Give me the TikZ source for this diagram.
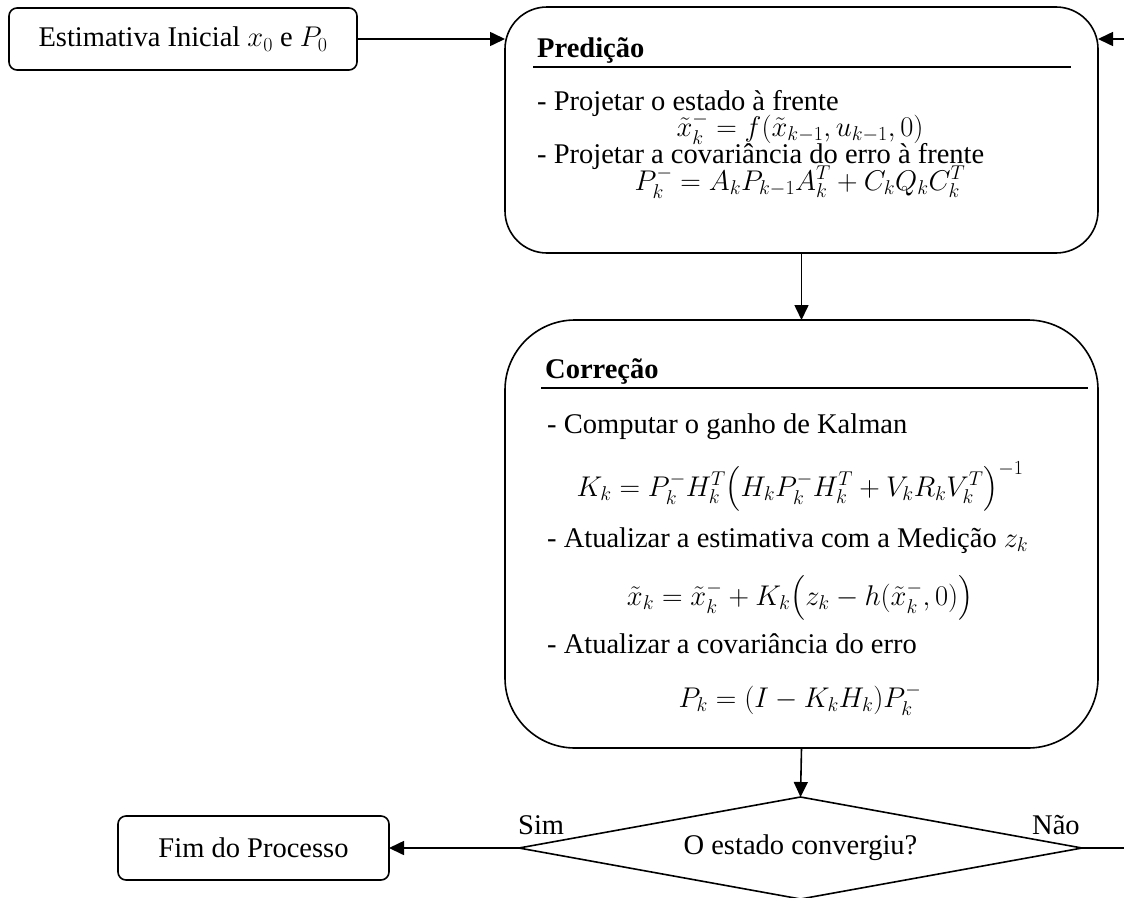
\RequirePackage{fix-cm}
\documentclass[tikz,border=0pt]{standalone}
\usepackage{amsmath}
\usepackage{fontspec}
\setmainfont{Liberation Serif}
\usetikzlibrary{arrows.meta,shapes.geometric}
\newcommand\myfs{\fontsize{28.5}{30}\selectfont}
\newcommand\strutp{\vrule height 24pt depth 10pt width 0pt}
\begin{document}
\begin{tikzpicture}[x=1pt,y=-1pt,
  box/.style={draw, line width=1.6pt, rounded corners=#1, inner sep=0pt, outer sep=0pt, font=\myfs},
  arr/.style={line width=1.6pt, -{Triangle[length=15pt,width=14pt]}},
  uline/.style={line width=1.6pt},
  txt/.style={anchor=base west, inner sep=0pt, font=\myfs},
  eq/.style={anchor=base, inner sep=0pt, font=\myfs},
  lbl/.style={anchor=base west, inner sep=0pt, font=\myfs}]
\useasboundingbox (0,0) rectangle (1124,897);
\clip (0,0) rectangle (1124,897);

% boxes
\node[box=8pt, minimum width=348pt, minimum height=62pt] (init) at (183,39) {Estimativa Inicial $x_0$ e $P_0$};
\node[box=42pt, minimum width=593pt, minimum height=246pt] (pred) at (801.5,130) {};
\node[box=70pt, minimum width=593pt, minimum height=428pt] (corr) at (801.5,534) {};
\node[draw, diamond, line width=1.6pt, aspect=5.5, minimum width=563pt, minimum height=102pt, inner sep=0pt, outer sep=0pt, font=\myfs] (dec) at (800.5,848) {O estado convergiu?};
\node[box=8pt, minimum width=271pt, minimum height=64pt] (fim) at (253.5,848) {Fim do Processo};

% Predicao contents
\node[txt] (ptitle) at (537,57) {\textbf{Predição}};
\draw[uline] (533,67) -- (1071,67);
\node[txt] (p1) at (537,110) {- Projetar o estado à frente};
\node[eq] (p2) at (800,136) {$\tilde{x}_k^- = f(\tilde{x}_{k-1}, u_{k-1}, 0)$};
\node[txt] (p3) at (537,163) {- Projetar a covariância do erro à frente};
\node[eq] (p4) at (800,190) {$P_k^- = A_k P_{k-1} A_k^T + C_k Q_k C_k^T$};

% Correcao contents
\node[txt] (ctitle) at (545,378) {\textbf{Correção}};
\draw[uline] (541,388) -- (1088,388);
\node[txt] (c1) at (547,433) {- Computar o ganho de Kalman};
\node[eq] (c2) at (800,496) {$K_k = P_k^- H_k^T {\left(\strutp H_k P_k^- H_k^T + V_k R_k V_k^T\right)}^{-1}$};
\node[txt] (c3) at (547,547) {- Atualizar a estimativa com a Medição $z_k$};
\node[eq] (c4) at (800,605) {$\tilde{x}_k = \tilde{x}_k^- + K_k{\left(\strutp z_k - h(\tilde{x}_k^-, 0)\right)}$};
\node[txt] (c5) at (547,653) {- Atualizar a covariância do erro};
\node[eq] (c6) at (800,707) {$P_k = (I - K_k H_k) P_k^-$};

% labels
\node[lbl] (sim) at (518,834) {Sim};
\node[lbl] (nao) at (1032,834) {Não};

% connectors
\coordinate (loop) at (1170,848);
\draw[arr] (init.east) -- (init.east -| pred.west);
\draw[arr] (pred.south) -- (corr.north);
\draw[arr] (corr.south) -- (dec.north);
\draw[arr] (dec.west) -- (fim.east);
\draw[arr] (dec.east) -- (loop) |- (init.east -| pred.east);
\end{tikzpicture}
\end{document}
